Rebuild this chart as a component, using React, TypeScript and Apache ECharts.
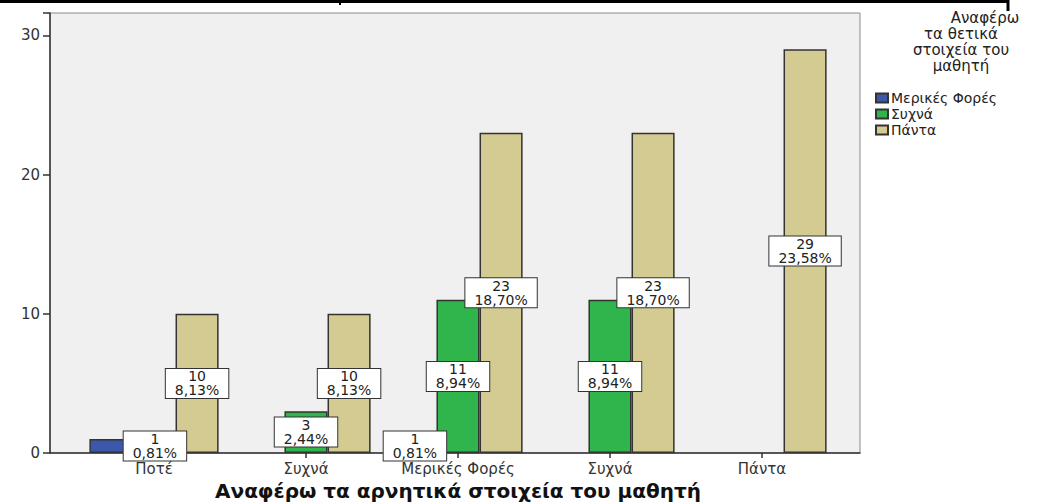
import React, { useEffect, useRef } from "react";
import * as echarts from "echarts";

const categories = ["Ποτέ", "Συχνά", "Μερικές Φορές", "Συχνά", "Πάντα"];
const seriesNames = ["Μερικές Φορές", "Συχνά", "Πάντα"];
const valuesMeriki = [1, 0, 1, 0, 0];
const valuesSyxna = [0, 3, 11, 11, 0];
const valuesPanta = [10, 10, 23, 23, 29];
const totalN = 123;
const yTicks = [0, 10, 20, 30];
const colors = ["#3b58ab", "#2fb54b", "#d4cb93"];
const xTitle = "Αναφέρω τα αρνητικά στοιχεία του μαθητή";
const legendTitle = ["Αναφέρω", "τα θετικά", "στοιχεία του", "μαθητή"];

const FONT = "DejaVu Sans";

export default function App() {
  const ref = useRef<HTMLDivElement>(null);
  useEffect(() => {
    if (!ref.current) return;
    const chart = echarts.init(ref.current, undefined, { renderer: "svg" });
    const allSeries = [valuesMeriki, valuesSyxna, valuesPanta];
    const fmtPct = (v: number) => ((v / totalN) * 100).toFixed(2).replace(".", ",") + "%";
    const top = 13;
    const bottom = 51;
    const yMax = 31.6;
    chart.setOption({
      animation: false,
      backgroundColor: "#ffffff",
      textStyle: { fontFamily: FONT },
      grid: [
        { left: 50, right: 186, top, bottom, show: true, backgroundColor: "#f0f0f0", borderColor: "#8a8a8a", borderWidth: 1, containLabel: false, outerBoundsMode: "none" },
        { left: 78, width: 760, top, bottom, containLabel: false, outerBoundsMode: "none" },
      ],
      xAxis: [
        {
          gridIndex: 0, type: "value", min: 0, max: 1, show: true,
          axisLine: { show: true, lineStyle: { color: "#333", width: 1.5 } },
          axisTick: { show: false }, axisLabel: { show: false }, splitLine: { show: false },
        },
        {
          gridIndex: 1, type: "category", data: categories,
          axisLine: { show: false },
          axisTick: { show: true, alignWithLabel: true, length: 5, lineStyle: { color: "#333", width: 1.5 } },
          axisLabel: { fontFamily: FONT, fontSize: 15, color: "#333", margin: 8 },
          name: xTitle, nameLocation: "middle", nameGap: 27,
          nameTextStyle: { fontFamily: FONT, fontSize: 20, fontWeight: "bold", color: "#111" },
        },
      ],
      yAxis: [
        {
          gridIndex: 0, type: "value", min: 0, max: yMax, interval: 10,
          axisLine: { show: true, lineStyle: { color: "#333", width: 1.5 } },
          axisTick: { show: true, length: 7, lineStyle: { color: "#333", width: 1.5 } },
          axisLabel: {
            fontFamily: FONT, fontSize: 15, color: "#333", margin: 10,
            formatter: (v: number) => (yTicks.includes(v) ? String(v) : ""),
          },
          splitLine: { show: false },
        },
        { gridIndex: 1, type: "value", min: 0, max: yMax, show: false },
      ],
      legend: {
        orient: "vertical", left: 870, top: 86,
        itemWidth: 12, itemHeight: 9, itemGap: 2,
        icon: "rect",
        data: seriesNames,
        textStyle: { fontFamily: FONT, fontSize: 14, lineHeight: 10, color: "#222", padding: [0, 0, 0, -2] },
      },
      graphic: [
        { type: "line", shape: { x1: 0, y1: 1.5, x2: 1009, y2: 1.5 }, style: { stroke: "#000", lineWidth: 3 } },
        { type: "line", shape: { x1: 340, y1: 0, x2: 340, y2: 5 }, style: { stroke: "#000", lineWidth: 2 } },
        { type: "line", shape: { x1: 1008, y1: 0, x2: 1008, y2: 11 }, style: { stroke: "#000", lineWidth: 3 } },
        ...legendTitle.map((t, i) => ({
          type: "text", x: i === 0 ? 985 : 961, y: 10 + i * 16,
          style: { text: t, fontFamily: FONT, fontSize: 15, lineHeight: 15, fill: "#222", textAlign: "center" },
        })),
      ],
      series: allSeries.map((vals, si) => ({
        type: "bar", name: seriesNames[si], xAxisIndex: 1, yAxisIndex: 1,
        barGap: "0%", barCategoryGap: "15%",
        data: vals.map((v, ci) => {
          if (v === 0) return "-";
          if (si === 0 && ci === 0) return { value: v, label: { offset: [44, 0] } };
          return v;
        }),
        itemStyle: { color: colors[si], borderColor: "#333", borderWidth: 1.5 },
        label: {
          show: true, position: "inside",
          formatter: (p: any) => `${p.value}\n${fmtPct(p.value)}`,
          fontFamily: FONT, fontSize: 14, lineHeight: 14, color: "#222",
          backgroundColor: "#ffffff", borderColor: "#333", borderWidth: 1,
          padding: [1, 9, 0, 9], align: "center",
        },
        z: 2,
      })),
    });
    return () => chart.dispose();
  }, []);
  return <div ref={ref} style={{ width: 1046, height: 504, position: "absolute", left: 0, top: 0 }} />;
}
